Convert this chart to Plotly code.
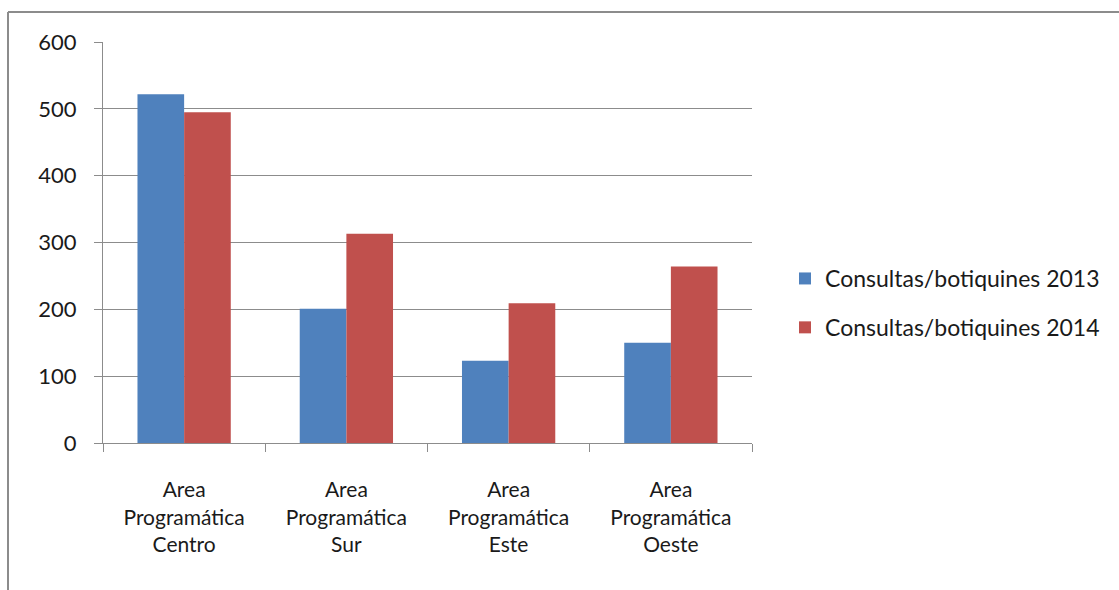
import plotly.graph_objects as go

# Data
categories = [
    "Area<br>Programática<br>Centro",
    "Area<br>Programática<br>Sur",
    "Area<br>Programática<br>Este",
    "Area<br>Programática<br>Oeste",
]
series_names = ["Consultas/botiquines 2013", "Consultas/botiquines 2014"]
values_2013 = [522, 201, 123, 150]
values_2014 = [495, 313, 209, 264]
y_ticks = [0, 100, 200, 300, 400, 500, 600]

colors = ["#4F81BD", "#C0504D"]
font_family = "Lato, 'Open Sans', sans-serif"
text_color = "#1a1a1a"

fig = go.Figure()
for name, vals, col, grp in zip(series_names, [values_2013, values_2014], colors, ["a", "b"]):
    fig.add_trace(go.Bar(
        x=categories, y=vals, name=name, legendgroup=grp,
        marker=dict(color=col, line=dict(width=0)),
    ))

# plot area in pixels: x 103..752, y 42..443
L, R, T, B = 103, 752, 42, 443
W, H = 1119, 590

def px_x(p):
    return (p - L) / (R - L)

def px_y(p):
    return (B - p) / (B - T)

frame = "#8c8c8c"
shapes = [
    dict(type="line", xref="paper", yref="paper",
         x0=px_x(8), x1=px_x(1119), y0=px_y(12), y1=px_y(12),
         line=dict(color=frame, width=2)),
    dict(type="line", xref="paper", yref="paper",
         x0=px_x(8), x1=px_x(8), y0=px_y(12), y1=px_y(590),
         line=dict(color=frame, width=2)),
]

fig.update_layout(
    width=W, height=H,
    margin=dict(l=L, r=W - R, t=T, b=H - B, pad=0),
    paper_bgcolor="white", plot_bgcolor="white",
    barmode="group", bargap=0.425, bargroupgap=0,
    font=dict(family=font_family, size=21, color=text_color),
    showlegend=True,
    legend=dict(
        x=px_x(785), y=px_y(303), xanchor="left", yanchor="middle",
        font=dict(size=23, color=text_color),
        tracegroupgap=16, itemwidth=30,
        bgcolor="rgba(0,0,0,0)",
    ),
    shapes=shapes,
)

fig.update_xaxes(
    showgrid=False, showline=True, linecolor="#8c8c8c", linewidth=1,
    ticks="outside", ticklen=8, tickcolor="#8c8c8c", tickson="boundaries",
    tickfont=dict(size=21), ticklabelstandoff=28, automargin=False,
)
fig.update_yaxes(
    range=[0, 600], tickvals=y_ticks, showgrid=True, gridcolor="#8c8c8c", gridwidth=1,
    showline=True, linecolor="#8c8c8c", linewidth=1,
    ticks="outside", ticklen=8, tickcolor="#8c8c8c",
    tickfont=dict(size=22), ticklabelstandoff=13, zeroline=False, automargin=False,
)

fig.write_html("out.html")
